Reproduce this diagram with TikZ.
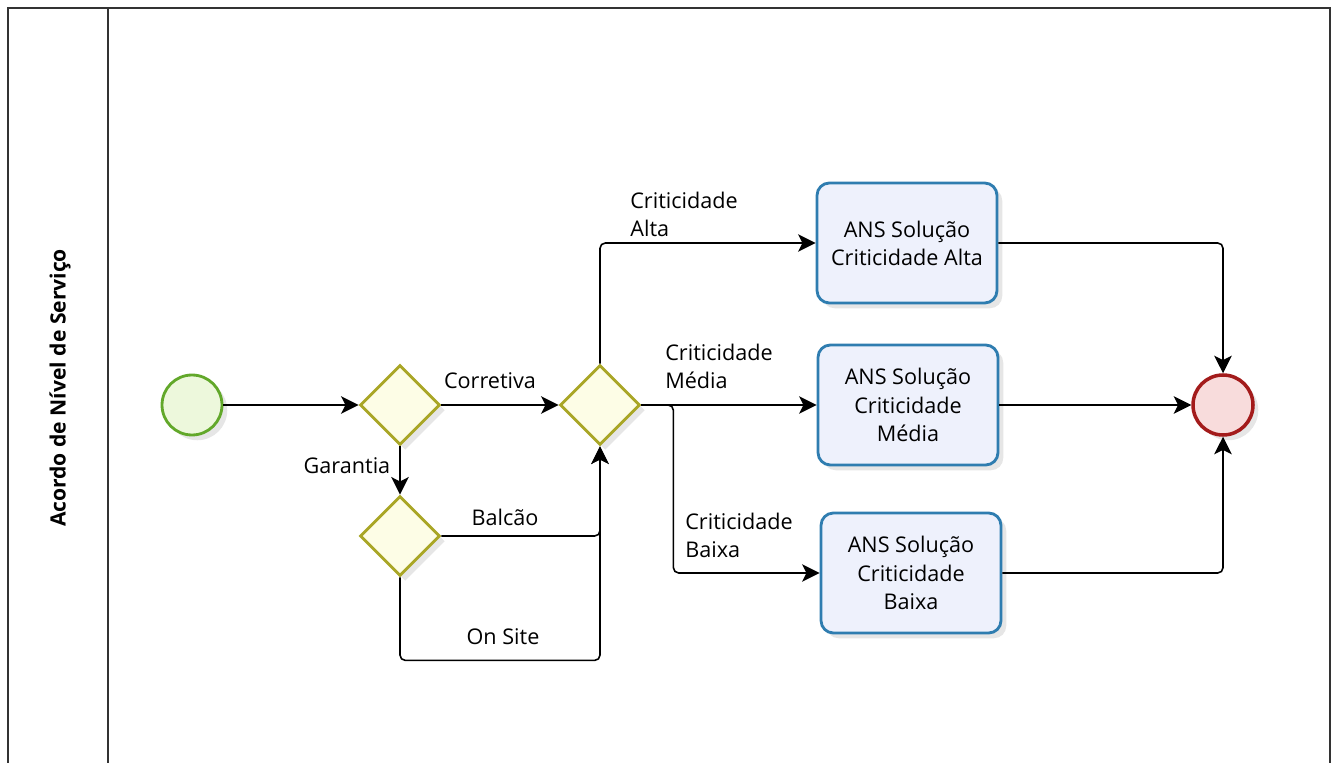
\documentclass[tikz,border=0pt]{standalone}
\usepackage{fontspec}
\setmainfont{Open Sans}
\usepackage{xcolor}
\usetikzlibrary{shapes.geometric,arrows.meta,shadows}

\definecolor{startline}{HTML}{62A82A}
\definecolor{startfill}{HTML}{EDF8DC}
\definecolor{gateline}{HTML}{A9A626}
\definecolor{gatefill}{HTML}{FDFDE6}
\definecolor{taskline}{HTML}{2F7DB0}
\definecolor{taskfill}{HTML}{EEF1FC}
\definecolor{endline}{HTML}{A31B1B}
\definecolor{endfill}{HTML}{F8DCDC}

\begin{document}
\begin{tikzpicture}[x=0.02cm, y=-0.02cm,
    font=\fontsize{12.3}{16}\selectfont,
    shade/.style={drop shadow={opacity=0.2, shadow xshift=3pt, shadow yshift=-3pt}},
    startev/.style={circle, minimum size=1.2cm, inner sep=0pt, draw=startline, line width=1.6pt, fill=startfill, shade},
    endev/.style={circle, minimum size=1.2cm, inner sep=0pt, draw=endline, line width=2pt, fill=endfill, shade},
    gate/.style={diamond, aspect=1, minimum size=1.6cm, inner sep=0pt, draw=gateline, line width=1.6pt, fill=gatefill, shade},
    task/.style={rectangle, rounded corners=7pt, minimum width=3.6cm, minimum height=2.4cm, align=center, draw=taskline, line width=1.6pt, fill=taskfill, shade},
    flow/.style={draw=black, line width=0.9pt, rounded corners=3pt, -{Stealth[length=10pt, width=10pt, inset=2.5pt]}},
    lbl/.style={inner sep=0pt, align=left}
]
    \useasboundingbox (0,0) rectangle (1339,763);

    % pool and lane
    \draw[line width=1pt, draw=black!80] (8,763) -- (8,8) -- (1330,8) -- (1330,763);
    \draw[line width=1pt, draw=black!80] (108,8) -- (108,763);
    \node[rotate=90, font=\bfseries\fontsize{12}{14}\selectfont] (lane) at (60,388) {Acordo de Nível de Serviço};

    % events and gateways
    \node[startev] (start) at (192,405) {};
    \node[gate] (tipo) at (400,405) {};
    \node[gate] (garantia) at (400,536) {};
    \node[gate] (crit) at (600,405) {};
    \node[endev] (fim) at (1223,405) {};

    % tasks
    \node[task] (alta) at (907,243) {ANS Solução\\Criticidade Alta};
    \node[task] (media) at (908,405) {ANS Solução\\Criticidade\\Média};
    \node[task] (baixa) at (911,573) {ANS Solução\\Criticidade\\Baixa};

    % flows
    \draw[flow] (start) -- (tipo);
    \draw[flow] (tipo) -- (crit);
    \draw[flow] (tipo) -- (garantia);
    \draw[flow] (garantia.east) -| (crit.south);
    \draw[flow] (garantia.south) -- ++(0,83) -| (crit.south);
    \draw[flow] (crit.north) |- (alta.west);
    \draw[flow] (crit.east) -- (media.west);
    \draw[flow] (crit.east) -- ++(32,0) |- (baixa.west);
    \draw[flow] (alta.east) -| (fim.north);
    \draw[flow] (media.east) -- (fim.west);
    \draw[flow] (baixa.east) -| (fim.south);

    % labels
    \node[lbl] (lcorretiva) at (490,381) {Corretiva};
    \node[lbl] (lgarantia) at (347,466) {Garantia};
    \node[lbl] (lbalcao) at (505,517) {Balcão};
    \node[lbl] (lonsite) at (503,637) {On Site};
    \node[lbl, anchor=west] (lalta) at (630,214) {Criticidade\\Alta};
    \node[lbl, anchor=west] (lmedia) at (665,366) {Criticidade\\Média};
    \node[lbl, anchor=west] (lbaixa) at (685,535) {Criticidade\\Baixa};
\end{tikzpicture}
\end{document}
